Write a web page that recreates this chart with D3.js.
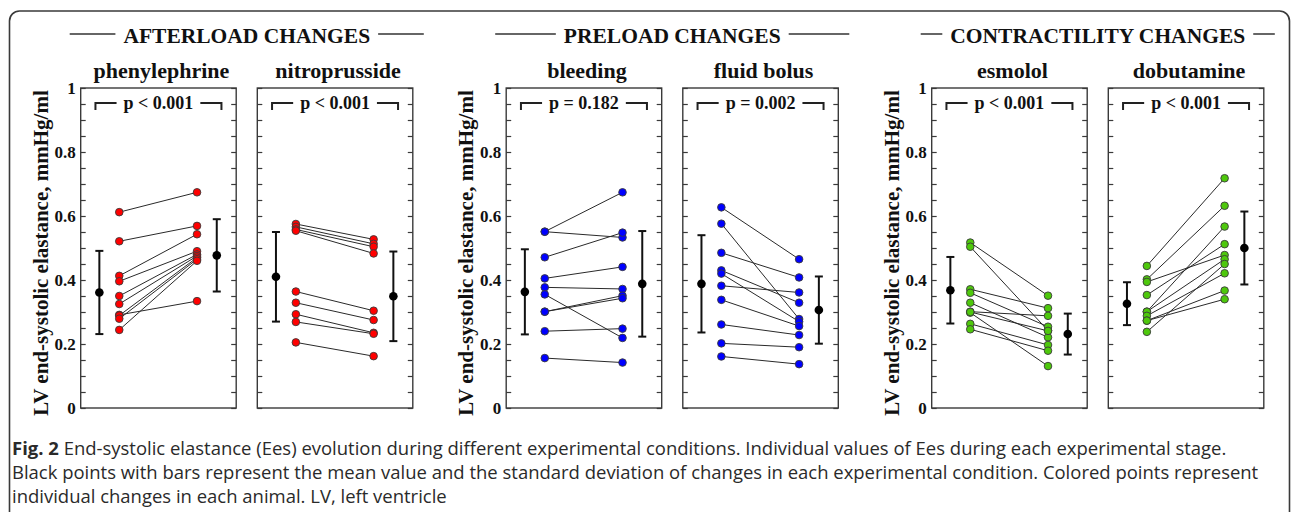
<!DOCTYPE html>
<html>
<head>
<meta charset="utf-8">
<script src="https://cdn.jsdelivr.net/npm/d3@7"></script>
<style>
  html, body { margin: 0; padding: 0; background: #fff; }
  svg { display: block; }
  .ylab { font-family: 'Liberation Serif', 'Times New Roman', serif; font-weight: bold; font-size: 17px; }
</style>
</head>
<body>
<svg id="chart" width="1292" height="512"></svg>
<script>
// ---------------- DATA ----------------
const groups = ["AFTERLOAD CHANGES", "PRELOAD CHANGES", "CONTRACTILITY CHANGES"];
const conditions = ["phenylephrine", "nitroprusside", "bleeding", "fluid bolus", "esmolol", "dobutamine"];
const conditionGroup = [0, 0, 1, 1, 2, 2];
const pLabels = ["p < 0.001", "p < 0.001", "p = 0.182", "p = 0.002", "p < 0.001", "p < 0.001"];
const yTickLabels = [0, 0.2, 0.4, 0.6, 0.8, 1];
const yLabel = "LV end-systolic elastance, mmHg/ml";

// individual animal values: before (baseline) and after
const phenylephrineBefore = [0.612, 0.521, 0.413, 0.396, 0.350, 0.325, 0.291, 0.289, 0.279, 0.244];
const phenylephrineAfter  = [0.674, 0.569, 0.543, 0.490, 0.480, 0.475, 0.334, 0.470, 0.465, 0.460];
const nitroprussideBefore = [0.575, 0.566, 0.558, 0.554, 0.364, 0.329, 0.293, 0.269, 0.205];
const nitroprussideAfter  = [0.527, 0.513, 0.504, 0.483, 0.304, 0.275, 0.235, 0.232, 0.162];
const bleedingBefore      = [0.551, 0.551, 0.471, 0.405, 0.377, 0.355, 0.301, 0.301, 0.240, 0.156];
const bleedingAfter       = [0.674, 0.533, 0.548, 0.441, 0.372, 0.219, 0.351, 0.343, 0.248, 0.142];
const fluidBolusBefore    = [0.627, 0.576, 0.485, 0.430, 0.420, 0.382, 0.338, 0.261, 0.202, 0.161];
const fluidBolusAfter     = [0.465, 0.278, 0.408, 0.329, 0.270, 0.361, 0.256, 0.228, 0.190, 0.137];
const esmololBefore       = [0.517, 0.504, 0.371, 0.360, 0.329, 0.301, 0.298, 0.300, 0.263, 0.246];
const esmololAfter        = [0.351, 0.242, 0.312, 0.254, 0.221, 0.288, 0.131, 0.241, 0.197, 0.179];
const dobutamineBefore    = [0.444, 0.402, 0.394, 0.353, 0.301, 0.301, 0.288, 0.273, 0.273, 0.238];
const dobutamineAfter     = [0.718, 0.632, 0.478, 0.512, 0.567, 0.465, 0.421, 0.367, 0.340, 0.450];

const meanBefore = [0.361, 0.410, 0.363, 0.388, 0.368, 0.326];
const sdBefore   = [0.130, 0.140, 0.133, 0.152, 0.104, 0.067];
const meanAfter  = [0.477, 0.349, 0.388, 0.306, 0.231, 0.500];
const sdAfter    = [0.113, 0.140, 0.165, 0.105, 0.064, 0.114];

const beforeSets = [phenylephrineBefore, nitroprussideBefore, bleedingBefore, fluidBolusBefore, esmololBefore, dobutamineBefore];
const afterSets  = [phenylephrineAfter, nitroprussideAfter, bleedingAfter, fluidBolusAfter, esmololAfter, dobutamineAfter];

// ---------------- STYLE / LAYOUT ----------------
const groupColors = ["#ff0000", "#0000ff", "#4ec80c"];
const serif = "'Liberation Serif', 'Times New Roman', serif";
const panelW = 155.5;
const groupStep = 425.5, panelStep = 176.6, firstLeft = 80.7;
const plotTop = 88, plotBottom = 408;

const svg = d3.select("#chart");

// outer rounded border
svg.append("rect")
  .attr("x", 9.5).attr("y", 11).attr("width", 1280).attr("height", 530)
  .attr("rx", 10).attr("ry", 10)
  .attr("fill", "none").attr("stroke", "#3a3a3a").attr("stroke-width", 1.6);

const y = d3.scaleLinear().domain([0, 1]).range([plotBottom, plotTop]);
const stage = d3.scaleOrdinal()
  .domain(["meanBefore", "before", "after", "meanAfter"])
  .range([0.12, 0.248, 0.748, 0.875]);

const panelLeft = conditions.map((c, i) => firstLeft + conditionGroup[i] * groupStep + (i % 2) * panelStep);

// group headers
groups.forEach((g, gi) => {
  const gl = firstLeft + gi * groupStep;
  const gr = gl + panelStep + panelW;
  const cx = (gl + gr) / 2;
  const t = svg.append("text")
    .attr("x", cx).attr("y", 43)
    .attr("text-anchor", "middle")
    .attr("font-family", serif).attr("font-weight", "bold").attr("font-size", 21.5)
    .attr("fill", "#111")
    .text(g);
  const bb = t.node().getBBox();
  svg.append("line").attr("x1", gl - 11).attr("x2", bb.x - 8).attr("y1", 34).attr("y2", 34)
    .attr("stroke", "#333").attr("stroke-width", 1.5);
  svg.append("line").attr("x1", bb.x + bb.width + 8).attr("x2", gr + 11).attr("y1", 34).attr("y2", 34)
    .attr("stroke", "#333").attr("stroke-width", 1.5);
});

// panels
conditions.forEach((cond, i) => {
  const L = panelLeft[i];
  const x = v => L + stage(v) * panelW;
  const color = groupColors[conditionGroup[i]];
  const g = svg.append("g");

  // title
  g.append("text")
    .attr("x", L + panelW / 2 + 3).attr("y", 78)
    .attr("text-anchor", "middle")
    .attr("font-family", serif).attr("font-weight", "bold").attr("font-size", 22)
    .attr("fill", "#111")
    .text(cond);

  // frame
  g.append("rect")
    .attr("x", L).attr("y", plotTop).attr("width", panelW).attr("height", plotBottom - plotTop)
    .attr("fill", "none").attr("stroke", "#3a3a3a").attr("stroke-width", 1.4);

  // inward minor ticks (left and right)
  const tickVals = d3.range(0, 21).map(k => k / 20);
  const lAxis = g.append("g").attr("transform", `translate(${L},0)`)
    .call(d3.axisLeft(y).tickValues(tickVals).tickSize(-5).tickFormat(""));
  const rAxis = g.append("g").attr("transform", `translate(${L + panelW},0)`)
    .call(d3.axisRight(y).tickValues(tickVals).tickSize(-5).tickFormat(""));
  [lAxis, rAxis].forEach(a => {
    a.select(".domain").remove();
    a.selectAll("line").attr("stroke", "#3a3a3a").attr("stroke-width", 1.2);
  });

  // tick labels and y-axis title on first panel of each group
  if (i % 2 === 0) {
    g.selectAll(".ylab").data(yTickLabels).enter().append("text")
      .attr("class", "ylab")
      .attr("x", L - 5).attr("y", d => y(d))
      .attr("dy", "0.35em")
      .attr("text-anchor", "end")
      .attr("fill", "#111")
      .text(d => (d === 0 || d === 1) ? String(d) : d.toFixed(1));
    g.append("text")
      .attr("transform", `translate(${L - 33},${(plotTop + plotBottom) / 2 + 5}) rotate(-90)`)
      .attr("text-anchor", "middle")
      .attr("font-family", serif).attr("font-weight", "bold").attr("font-size", 21)
      .attr("fill", "#111")
      .text(yLabel);
  }

  // p-value bracket
  const bx1 = L + panelW / 2 - 63, bx2 = L + panelW / 2 + 63, by = 103;
  const pt = g.append("text")
    .attr("x", L + panelW / 2).attr("y", by + 6)
    .attr("text-anchor", "middle")
    .attr("font-family", serif).attr("font-weight", "bold").attr("font-size", 18)
    .attr("fill", "#111")
    .text(pLabels[i]);
  const pb = pt.node().getBBox();
  g.append("path")
    .attr("d", `M${bx1},${by + 7}V${by}H${pb.x - 7}`)
    .attr("fill", "none").attr("stroke", "#222").attr("stroke-width", 2);
  g.append("path")
    .attr("d", `M${pb.x + pb.width + 7},${by}H${bx2}V${by + 7}`)
    .attr("fill", "none").attr("stroke", "#222").attr("stroke-width", 2);

  // connecting lines
  const pairs = beforeSets[i].map((b, k) => ({ b, a: afterSets[i][k] }));
  g.selectAll(".conn").data(pairs).enter().append("line")
    .attr("x1", x("before")).attr("x2", x("after"))
    .attr("y1", d => y(d.b)).attr("y2", d => y(d.a))
    .attr("stroke", "#2a2a2a").attr("stroke-width", 1);

  // individual points
  g.selectAll(".pb").data(beforeSets[i]).enter().append("circle")
    .attr("cx", x("before")).attr("cy", d => y(d)).attr("r", 3.8)
    .attr("fill", color).attr("stroke", "#3a3a3a").attr("stroke-width", 0.9);
  g.selectAll(".pa").data(afterSets[i]).enter().append("circle")
    .attr("cx", x("after")).attr("cy", d => y(d)).attr("r", 3.8)
    .attr("fill", color).attr("stroke", "#3a3a3a").attr("stroke-width", 0.9);

  // mean ± SD
  [["meanBefore", meanBefore[i], sdBefore[i]], ["meanAfter", meanAfter[i], sdAfter[i]]].forEach(([st, m, s]) => {
    const cx = x(st);
    g.append("line").attr("x1", cx).attr("x2", cx).attr("y1", y(m - s)).attr("y2", y(m + s))
      .attr("stroke", "#111").attr("stroke-width", 2);
    [m - s, m + s].forEach(v => {
      g.append("line").attr("x1", cx - 4).attr("x2", cx + 4).attr("y1", y(v)).attr("y2", y(v))
        .attr("stroke", "#111").attr("stroke-width", 2);
    });
    g.append("circle").attr("cx", cx).attr("cy", y(m)).attr("r", 4.3).attr("fill", "#000");
  });
});

// caption
const captionLines = [
  [["Fig. 2", true], [" End-systolic elastance (Ees) evolution during different experimental conditions. Individual values of Ees during each experimental stage.", false]],
  [["Black points with bars represent the mean value and the standard deviation of changes in each experimental condition. Colored points represent", false]],
  [["individual changes in each animal. LV, left ventricle", false]]
];
const capFont = "'Open Sans', 'Noto Sans', sans-serif";
const capTexts = captionLines.map((parts, li) => {
  const t = svg.append("text")
    .attr("x", 12).attr("y", 455 + li * 24)
    .attr("font-family", capFont).attr("font-size", 16).attr("fill", "#2a2a2a");
  parts.forEach(([s, b]) => {
    t.append("tspan").attr("font-weight", b ? "bold" : "normal").text(s);
  });
  return t;
});
// fit caption font so the first line spans the reference width
const w0 = capTexts[0].node().getComputedTextLength();
const fs = 16 * 1215 / w0;
capTexts.forEach(t => t.attr("font-size", fs));
</script>
</body>
</html>
